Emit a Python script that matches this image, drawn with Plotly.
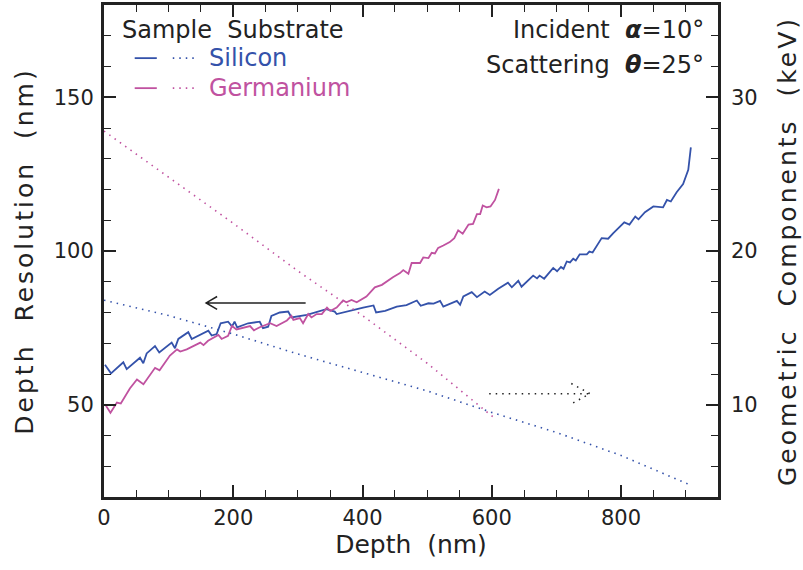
import plotly.graph_objects as go

# ---- data ----
si_depth = [1.5, 10.8, 29.9, 35.1, 55.7, 60.8, 66, 78.9, 85.5, 104.7, 109.8, 115, 130.4, 135.7,
            161.4, 166.6, 174.3, 180.5, 192, 198, 202, 206, 223, 241, 246, 254, 259, 272, 285,
            290, 314, 344, 357, 360, 401, 417, 421, 435, 453, 468, 484, 490, 502, 510, 520, 525,
            546, 551, 556, 569, 577, 589, 597, 610, 625, 631, 641, 646, 664, 670, 674, 681, 695,
            701, 707, 711, 716, 721, 726, 730, 736, 747, 751, 756, 770, 780, 788, 796, 805, 813,
            822, 827, 837, 850, 865, 871, 877, 886, 896, 904, 908]
si_res = [63, 60.2, 63.8, 61.6, 65.3, 63.5, 66.7, 69.1, 67, 70.2, 68.4, 71.4, 73.6, 71.4,
          74.1, 72.5, 73, 76.5, 77, 75.5, 77, 75.2, 76.5, 77, 74.9, 75.4, 78.9, 80, 80.3,
          78.4, 79.2, 81.1, 80.3, 79.5, 81.6, 82.3, 80.0, 80.5, 81.9, 82.4, 83.9, 82.2, 83, 82.9, 83.8, 81.9,
          83.8, 82.5, 85.2, 86.6, 85, 86.8, 85.7, 87.7, 89.7, 88.2, 90.3, 88.4, 92, 91.1, 92, 91, 94.5,
          93.4, 94.8, 94.2, 96.6, 96.3, 97.5, 96.9, 98.9, 98.9, 99.8, 99.5, 104.2, 104, 105.8, 107.5, 109.3, 108.6,
          111.2, 110.3, 112.6, 114.5, 114.2, 116.6, 116.1, 119.1, 121.8, 126.4, 133.7]

ge_depth = [1.5, 10, 20, 26, 40, 51, 61, 79, 86, 102, 113, 118, 128, 149, 154, 161, 177, 182, 192,
            198, 205, 226, 232, 241, 257, 267, 283, 290, 293, 303, 308, 316, 321, 329, 337, 345,
            350, 360, 370, 375, 383, 391, 406, 419, 430, 437, 447, 458, 463, 471, 476, 489, 494,
            502, 507, 512, 517, 525, 535, 542, 548, 555, 564, 571, 577, 582, 586, 592, 598, 605, 611]
ge_res = [50.2, 47.4, 50.7, 50.4, 55.3, 58.2, 56.7, 62, 61.2, 66, 68, 67.3, 68, 70.2, 69.4, 70.8, 72.7, 71.4, 72.4,
          75.6, 74.5, 75.6, 74.2, 75.2, 76.5, 75.6, 77.4, 78.9, 77.6, 78.2, 76.5, 79.5, 78.4, 79.5, 79.5, 81.6,
          80.5, 81.6, 83.9, 83.3, 84.1, 83.3, 85.2, 88.2, 89, 90.1, 91.5, 92.8, 93.8, 92.6, 96.1, 96.1, 97.9,
          97.7, 99.4, 99.2, 101, 101.8, 102.9, 104.2, 106.7, 105.6, 108.6, 108.8, 112, 112, 114.8, 114.2, 114.5, 116.6, 120.2]

si_geo_depth = [0, 100, 200, 300, 400, 500, 600, 700, 800, 906]
si_geo_kev = [16.8, 15.8, 14.6, 13.3, 12.1, 10.9, 9.5, 8.2, 6.7, 4.8]

ge_geo_depth = [0, 100, 200, 300, 400, 500, 605]
ge_geo_kev = [27.8, 24.8, 21.8, 18.7, 15.8, 12.7, 9.1]

x_ticks = [0, 200, 400, 600, 800]
y_ticks = [50, 100, 150]
y2_ticks = [10, 20, 30]

SI = "rgb(52,82,170)"
GE = "rgb(192,82,160)"
FONT = "DejaVu Sans"
DOT = "1.5px,5px"

fig = go.Figure()
fig.add_trace(go.Scatter(x=si_depth, y=si_res, mode="lines", line=dict(color=SI, width=1.8), yaxis="y"))
fig.add_trace(go.Scatter(x=ge_depth, y=ge_res, mode="lines", line=dict(color=GE, width=1.8), yaxis="y"))
fig.add_trace(go.Scatter(x=si_geo_depth, y=si_geo_kev, mode="lines", line=dict(color=SI, width=1.6, dash=DOT), yaxis="y2"))
fig.add_trace(go.Scatter(x=ge_geo_depth, y=ge_geo_kev, mode="lines", line=dict(color=GE, width=1.6, dash=DOT), yaxis="y2"))

axfont = dict(family=FONT, size=21, color="#222")
titlefont = dict(family=FONT, size=25, color="#222")
NB = "\u00a0"
SP = NB + NB

fig.update_layout(
    width=803, height=570,
    margin=dict(l=104, r=85, t=5, b=73),
    paper_bgcolor="white", plot_bgcolor="white",
    showlegend=False,
    font=dict(family=FONT, color="#222"),
    xaxis=dict(range=[0, 950], tickvals=x_ticks, ticks="inside", ticklen=12, tickwidth=1.5,
               tickcolor="#222", showline=True, linewidth=3, linecolor="#222", mirror="ticks",
               showgrid=False, zeroline=False, tickfont=axfont, automargin=False,
               minor=dict(dtick=50, tick0=0, ticklen=7, tickwidth=1.2, ticks="inside", tickcolor="#222", showgrid=False),
               title=dict(text="Depth" + SP + "(nm)", font=titlefont, standoff=7)),
    yaxis=dict(range=[20, 180], tickvals=y_ticks, ticks="inside", ticklen=12, tickwidth=1.5,
               tickcolor="#222", showline=True, linewidth=3, linecolor="#222", mirror=True,
               showgrid=False, zeroline=False, tickfont=axfont, automargin=False, ticklabelstandoff=3,
               minor=dict(dtick=10, tick0=0, ticklen=7, tickwidth=1.2, ticks="inside", tickcolor="#222", showgrid=False),
               title=dict(text="Depth" + SP + "Resolution" + SP + "(nm)", font=titlefont, standoff=13)),
    yaxis2=dict(range=[4, 36], tickvals=y2_ticks, ticks="inside", ticklen=12, tickwidth=1.5,
                tickcolor="#222", overlaying="y", side="right", showline=False,
                showgrid=False, zeroline=False, tickfont=axfont, automargin=False, ticklabelstandoff=12,
                minor=dict(dtick=2, tick0=0, ticklen=7, tickwidth=1.2, ticks="inside", tickcolor="#222", showgrid=False),
                title=dict(text="Geometric" + SP + "Components" + SP + "(keV)", font=titlefont, standoff=21)),
)

# arrows (left-axis coordinates)
fig.add_shape(type="path", xref="x", yref="y",
              path="M 312,83.1 L 158,83.1 M 175,85.2 L 158,83.1 L 175,81.0",
              line=dict(color="#222", width=1.5))
fig.add_shape(type="path", xref="x", yref="y",
              path="M 596,53.6 L 752,53.6 M 723,56.9 L 752,53.6 L 723,50.3",
              line=dict(color="#222", width=1.5, dash=DOT))

# legend-like text
tf = dict(family=FONT, size=24, color="#222")
fig.add_annotation(xref="paper", yref="paper", x=0.026, y=0.949, xanchor="left", yanchor="middle",
                   text="Sample" + SP + "Substrate", showarrow=False, font=tf)
fig.add_annotation(xref="paper", yref="paper", x=0.168, y=0.892, xanchor="left", yanchor="middle",
                   text="Silicon", showarrow=False, font=dict(family=FONT, size=24, color=SI))
fig.add_annotation(xref="paper", yref="paper", x=0.168, y=0.831, xanchor="left", yanchor="middle",
                   text="Germanium", showarrow=False, font=dict(family=FONT, size=24, color=GE))
for yy, col in [(0.892, SI), (0.831, GE)]:
    fig.add_shape(type="line", xref="paper", yref="paper", x0=0.050, x1=0.086, y0=yy, y1=yy,
                  line=dict(color=col, width=1.8))
    fig.add_shape(type="line", xref="paper", yref="paper", x0=0.112, x1=0.148, y0=yy, y1=yy,
                  line=dict(color=col, width=1.6, dash=DOT))

fig.add_annotation(xref="paper", yref="paper", x=0.980, y=0.949, xanchor="right", yanchor="middle",
                   text="Incident" + SP + "<b><i>α</i></b>=10°", showarrow=False, font=tf)
fig.add_annotation(xref="paper", yref="paper", x=0.980, y=0.878, xanchor="right", yanchor="middle",
                   text="Scattering" + SP + "<b><i>θ</i></b>=25°", showarrow=False, font=tf)

post = (
    "document.body.style.margin='0px';"
    "document.querySelectorAll('.ytitle').forEach(function(e){e.setAttribute('letter-spacing','3px');});"
    "document.querySelectorAll('.y2title').forEach(function(e){e.setAttribute('letter-spacing','3px');});"
)
fig.write_html("out.html", post_script=post, config={"displayModeBar": False})
